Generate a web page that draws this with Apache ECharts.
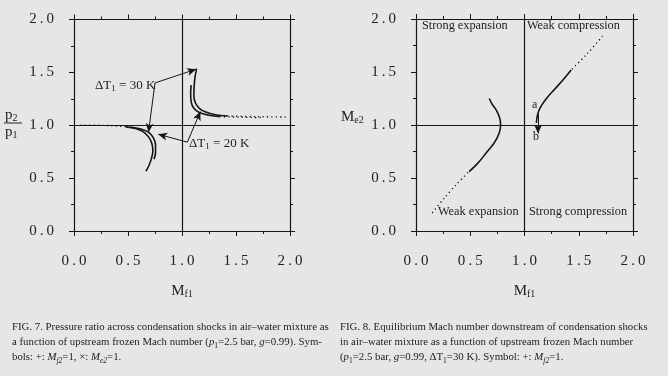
<!DOCTYPE html>
<html>
<head>
<meta charset="utf-8">
<script src="https://cdn.jsdelivr.net/npm/echarts@6/dist/echarts.min.js"></script>
<style>
  html, body { margin: 0; padding: 0; background: #e6e6e6; }
  #chart { width: 668px; height: 376px; }
</style>
</head>
<body>
<div id="chart"></div>
<script>
  // tick labels shared by both figures
  const tickLabels = ['0.0', '0.5', '1.0', '1.5', '2.0']

  // FIG. 7 : p2/p1 vs Mf1
  const f7LowDot = [[0.06, 1.0], [0.2, 1.0], [0.3, 0.998], [0.4, 0.993], [0.5, 0.985]]
  const f7Low30 = [[0.48, 0.985], [0.57, 0.97], [0.64, 0.94], [0.69, 0.89], [0.72, 0.83], [0.73, 0.76], [0.715, 0.68], [0.69, 0.61], [0.665, 0.565]]
  const f7Low20 = [[0.52, 0.984], [0.62, 0.965], [0.69, 0.935], [0.735, 0.88], [0.755, 0.81], [0.755, 0.74], [0.74, 0.68]]
  const f7Up30 = [[1.135, 1.535], [1.12, 1.45], [1.112, 1.36], [1.11, 1.28], [1.125, 1.21], [1.16, 1.16], [1.22, 1.125], [1.31, 1.10], [1.42, 1.088]]
  const f7Up30Dot = [[1.42, 1.088], [1.6, 1.083], [1.8, 1.08], [1.96, 1.078]]
  const f7Up20 = [[1.085, 1.38], [1.08, 1.30], [1.085, 1.22], [1.11, 1.16], [1.16, 1.12], [1.25, 1.095], [1.35, 1.082]]
  const f7Up20Dot = [[1.35, 1.082], [1.55, 1.076], [1.75, 1.073]]
  // arrows: [from, to]
  const arrow30a = [[0.75, 1.40], [1.13, 1.53]]
  const arrow30b = [[0.75, 1.40], [0.69, 0.935]]
  const arrow20a = [[1.05, 0.84], [0.78, 0.915]]
  const arrow20b = [[1.05, 0.84], [1.17, 1.13]]

  // FIG. 8 : Me2 vs Mf1
  const f8ExpDot = [[0.15, 0.17], [0.22, 0.26], [0.32, 0.38], [0.41, 0.48], [0.49, 0.56]]
  const f8Exp = [[0.49, 0.56], [0.57, 0.64], [0.65, 0.74], [0.72, 0.83], [0.765, 0.92], [0.78, 1.0], [0.77, 1.07], [0.74, 1.14], [0.70, 1.20], [0.675, 1.25]]
  const f8CompDot = [[1.72, 1.84], [1.62, 1.72], [1.52, 1.61], [1.43, 1.52]]
  const f8Comp = [[1.43, 1.52], [1.35, 1.42], [1.28, 1.34], [1.21, 1.26], [1.16, 1.19], [1.13, 1.13], [1.115, 1.07], [1.11, 1.02]]
  const arrowAB = [[1.125, 1.10], [1.125, 0.92]]

  const chart = echarts.init(document.getElementById('chart'))

  const serif = "'Liberation Serif', 'DejaVu Serif', serif"
  const ink = '#151515'

  const fmtTick = v => {
    const s = tickLabels[Math.round(v / 0.5)] || ''
    return s.split('').join('\u2009')
  }

  const axisBase = {
    min: 0,
    max: 2,
    interval: 0.5,
    axisLine: { show: true, onZero: false, lineStyle: { color: ink, width: 1.2 } },
    axisTick: { show: true, length: 5, lineStyle: { color: ink, width: 1 } },
    minorTick: { show: true, splitNumber: 2, length: 3, lineStyle: { color: ink, width: 1 } },
    splitLine: { show: false },
    axisLabel: { show: false }
  }

  const xBottom = grid => ({
    ...axisBase,
    type: 'value',
    gridIndex: grid,
    position: 'bottom',
    axisLabel: { show: true, formatter: fmtTick, margin: 23, fontSize: 15, color: '#222', fontFamily: serif },
    name: '{m|M}{s|f1}',
    nameLocation: 'middle',
    nameGap: 52,
    nameTextStyle: {
      rich: {
        m: { fontSize: 15, fontFamily: serif, color: '#222', lineHeight: 16 },
        s: { fontSize: 10, fontFamily: serif, color: '#222', lineHeight: 8, verticalAlign: 'bottom' }
      }
    }
  })
  const xTop = grid => ({ ...axisBase, type: 'value', gridIndex: grid, position: 'top' })
  const yLeft = grid => ({
    ...axisBase,
    type: 'value',
    gridIndex: grid,
    position: 'left',
    axisLabel: { show: true, formatter: fmtTick, margin: 20, fontSize: 15, color: '#222', fontFamily: serif }
  })
  const yRight = grid => ({ ...axisBase, type: 'value', gridIndex: grid, position: 'right' })

  const refLines = {
    silent: true,
    symbol: 'none',
    label: { show: false },
    lineStyle: { color: ink, width: 1.2, type: 'solid' },
    data: [{ xAxis: 1 }, { yAxis: 1 }]
  }

  const arrowLines = list => ({
    silent: true,
    symbol: ['none', 'arrow'],
    symbolSize: [6, 9],
    label: { show: false },
    lineStyle: { color: ink, width: 1, type: 'solid' },
    data: list.map(a => [{ coord: a[0] }, { coord: a[1] }])
  })

  const line = (data, xi, yi, dotted, extra) => ({
    type: 'line',
    xAxisIndex: xi,
    yAxisIndex: yi,
    data: data,
    smooth: 0.4,
    showSymbol: false,
    silent: true,
    lineStyle: dotted
      ? { color: ink, width: 1.4, type: [1.2, 3.2] }
      : { color: ink, width: 1.6 },
    ...(extra || {})
  })

  const capSize = 10.8
  const sub = { fontSize: 7.5, lineHeight: 6, verticalAlign: 'bottom', fontFamily: serif, fill: '#222' }
  const subI = { ...sub, fontStyle: 'italic' }
  const it = { fontStyle: 'italic', fontSize: capSize, fontFamily: serif, fill: '#222' }
  const caption = (x, y, text) => ({
    type: 'text',
    x: x,
    y: y,
    style: {
      text: text,
      fontSize: capSize,
      fontFamily: serif,
      fill: '#222',
      lineHeight: 15,
      rich: { i: it, s: sub, si: subI }
    }
  })

  const subText = (x, y, main, low, size) => ({
    type: 'text',
    x: x,
    y: y,
    style: {
      text: '{m|' + main + '}{s|' + low + '}',
      rich: {
        m: { fontSize: size, fontFamily: serif, fill: '#222', lineHeight: size },
        s: { fontSize: 10, fontFamily: serif, fill: '#222', lineHeight: 7, verticalAlign: 'bottom' }
      }
    }
  })

  const dtLabel = (x, y, text) => ({
    type: 'text',
    x: x,
    y: y,
    style: {
      text: text,
      fontSize: 13,
      fontFamily: serif,
      fill: '#222',
      lineHeight: 15,
      rich: { s: { fontSize: 9, fontFamily: serif, fill: '#222', lineHeight: 7, verticalAlign: 'bottom' } }
    }
  })

  const region = (x, y, text) => ({
    type: 'text',
    x: x,
    y: y,
    style: { text: text, fontSize: 12.3, fontFamily: serif, fill: '#222' }
  })

  const option = {
    backgroundColor: '#e6e6e6',
    animation: false,
    grid: [
      { left: 74, right: 378, top: 19.5, bottom: 145 },
      { left: 416, right: 35, top: 19, bottom: 145 }
    ],
    xAxis: [xBottom(0), xTop(0), xBottom(1), xTop(1)],
    yAxis: [yLeft(0), yRight(0), yLeft(1), yRight(1)],
    series: [
      line(f7LowDot, 0, 0, true, { markLine: refLines }),
      line(f7Low30, 0, 0, false, { markLine: arrowLines([arrow30a, arrow30b, arrow20a, arrow20b]) }),
      line(f7Low20, 0, 0, false),
      line(f7Up30, 0, 0, false),
      line(f7Up30Dot, 0, 0, true),
      line(f7Up20, 0, 0, false),
      line(f7Up20Dot, 0, 0, true),
      line(f8ExpDot, 2, 2, true, { markLine: refLines }),
      line(f8Exp, 2, 2, false, { markLine: arrowLines([arrowAB]) }),
      line(f8CompDot, 2, 2, true),
      line(f8Comp, 2, 2, false)
    ],
    graphic: [
      // y-axis name of Fig. 7
      subText(5, 108, 'p', '2', 15),
      { type: 'line', shape: { x1: 4, y1: 123, x2: 22, y2: 123 }, style: { stroke: '#222', lineWidth: 1 } },
      subText(5, 125, 'p', '1', 15),
      // y-axis name of Fig. 8
      subText(341, 110, 'M', 'e2', 15),
      // ΔT labels
      dtLabel(95, 78, 'ΔT{s|1} = 30 K'),
      dtLabel(189, 136, 'ΔT{s|1} = 20 K'),
      // region labels of Fig. 8
      region(422, 20, 'Strong expansion'),
      region(527, 20, 'Weak compression'),
      region(438, 206, 'Weak expansion'),
      region(529, 206, 'Strong compression'),
      { type: 'text', x: 532, y: 99, style: { text: 'a', fontSize: 12, fontFamily: serif, fill: '#222' } },
      { type: 'text', x: 533, y: 131, style: { text: 'b', fontSize: 12, fontFamily: serif, fill: '#222' } },
      // captions
      caption(12, 320, 'FIG. 7. Pressure ratio across condensation shocks in air–water mixture as\na function of upstream frozen Mach number ({i|p}{s|1}=2.5 bar, {i|g}=0.99). Sym-\nbols: +: {i|M}{si|f2}=1, ×: {i|M}{si|e2}=1.'),
      caption(340, 320, 'FIG. 8. Equilibrium Mach number downstream of condensation shocks\nin air–water mixture as a function of upstream frozen Mach number\n({i|p}{s|1}=2.5 bar, {i|g}=0.99, ΔT{s|1}=30 K). Symbol: +: {i|M}{si|f2}=1.')
    ]
  }

  chart.setOption(option)
</script>
</body>
</html>
